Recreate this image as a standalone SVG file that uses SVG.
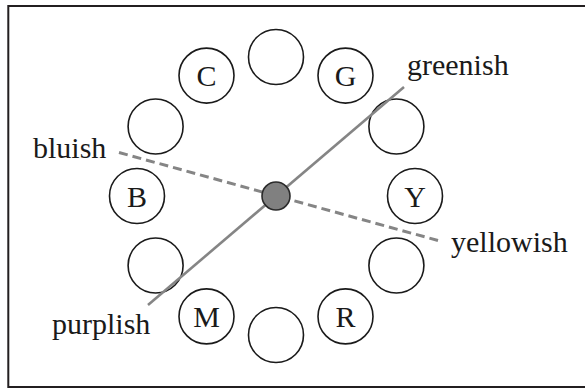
<svg xmlns="http://www.w3.org/2000/svg" width="585" height="388" viewBox="0 0 585 388">
  <style>
    .ring { fill: #ffffff; stroke: #1a1a1a; stroke-width: 1.6; }
    .lbl { font-family: "Liberation Serif", "Times New Roman", serif; font-size: 30px; fill: #1a1a1a; }
    .axis { font-family: "Liberation Serif", "Times New Roman", serif; font-size: 30px; fill: #1a1a1a; }
    .solid { stroke: #858585; stroke-width: 2.6; fill: none; }
    .dash { stroke: #858585; stroke-width: 3; fill: none; stroke-dasharray: 9 5; }
  </style>
  <rect x="0" y="0" width="585" height="388" fill="#ffffff"/>
  <!-- frame, open on the right edge -->
  <rect x="8.3" y="6" width="600" height="381" fill="none" stroke="#231f20" stroke-width="2"/>

  <!-- twelve hue positions on a ring around (276,196), r=139 -->
  <g id="n-top"><circle class="ring" cx="276" cy="57" r="27.5"/></g>
  <g id="n-G"><circle class="ring" cx="345.5" cy="75.6" r="27.5"/><text class="lbl" x="345.5" y="86" text-anchor="middle">G</text></g>
  <g id="n-e1"><circle class="ring" cx="396.4" cy="126.5" r="27.5"/></g>
  <g id="n-Y"><circle class="ring" cx="415" cy="196" r="27.5"/><text class="lbl" x="415" y="206.5" text-anchor="middle">Y</text></g>
  <g id="n-e2"><circle class="ring" cx="396.4" cy="265.5" r="27.5"/></g>
  <g id="n-R"><circle class="ring" cx="345.5" cy="316.4" r="27.5"/><text class="lbl" x="345.5" y="327" text-anchor="middle">R</text></g>
  <g id="n-bottom"><circle class="ring" cx="276" cy="335" r="27.5"/></g>
  <g id="n-M"><circle class="ring" cx="206.5" cy="316.4" r="27.5"/><text class="lbl" x="206.5" y="327" text-anchor="middle">M</text></g>
  <g id="n-e3"><circle class="ring" cx="155.6" cy="265.5" r="27.5"/></g>
  <g id="n-B"><circle class="ring" cx="137" cy="196" r="27.5"/><text class="lbl" x="137" y="206.5" text-anchor="middle">B</text></g>
  <g id="n-e4"><circle class="ring" cx="155.6" cy="126.5" r="27.5"/></g>
  <g id="n-C"><circle class="ring" cx="206.5" cy="75.6" r="27.5"/><text class="lbl" x="206.5" y="86" text-anchor="middle">C</text></g>

  <!-- axes through the centre -->
  <g id="connectors">
    <line class="solid" x1="148" y1="305" x2="404" y2="87"/>
    <line class="dash" x1="119" y1="152.5" x2="438" y2="240.5"/>
  </g>

  <g id="center"><circle cx="276" cy="196" r="14" fill="#808080" stroke="#2a2a2a" stroke-width="1.6"/></g>

  <!-- axis labels -->
  <g id="t-greenish"><text class="axis" x="407" y="74.5">greenish</text></g>
  <g id="t-bluish"><text class="axis" x="33" y="157.5">bluish</text></g>
  <g id="t-yellowish"><text class="axis" x="451" y="251.5">yellowish</text></g>
  <g id="t-purplish"><text class="axis" x="52" y="333.5">purplish</text></g>
</svg>
